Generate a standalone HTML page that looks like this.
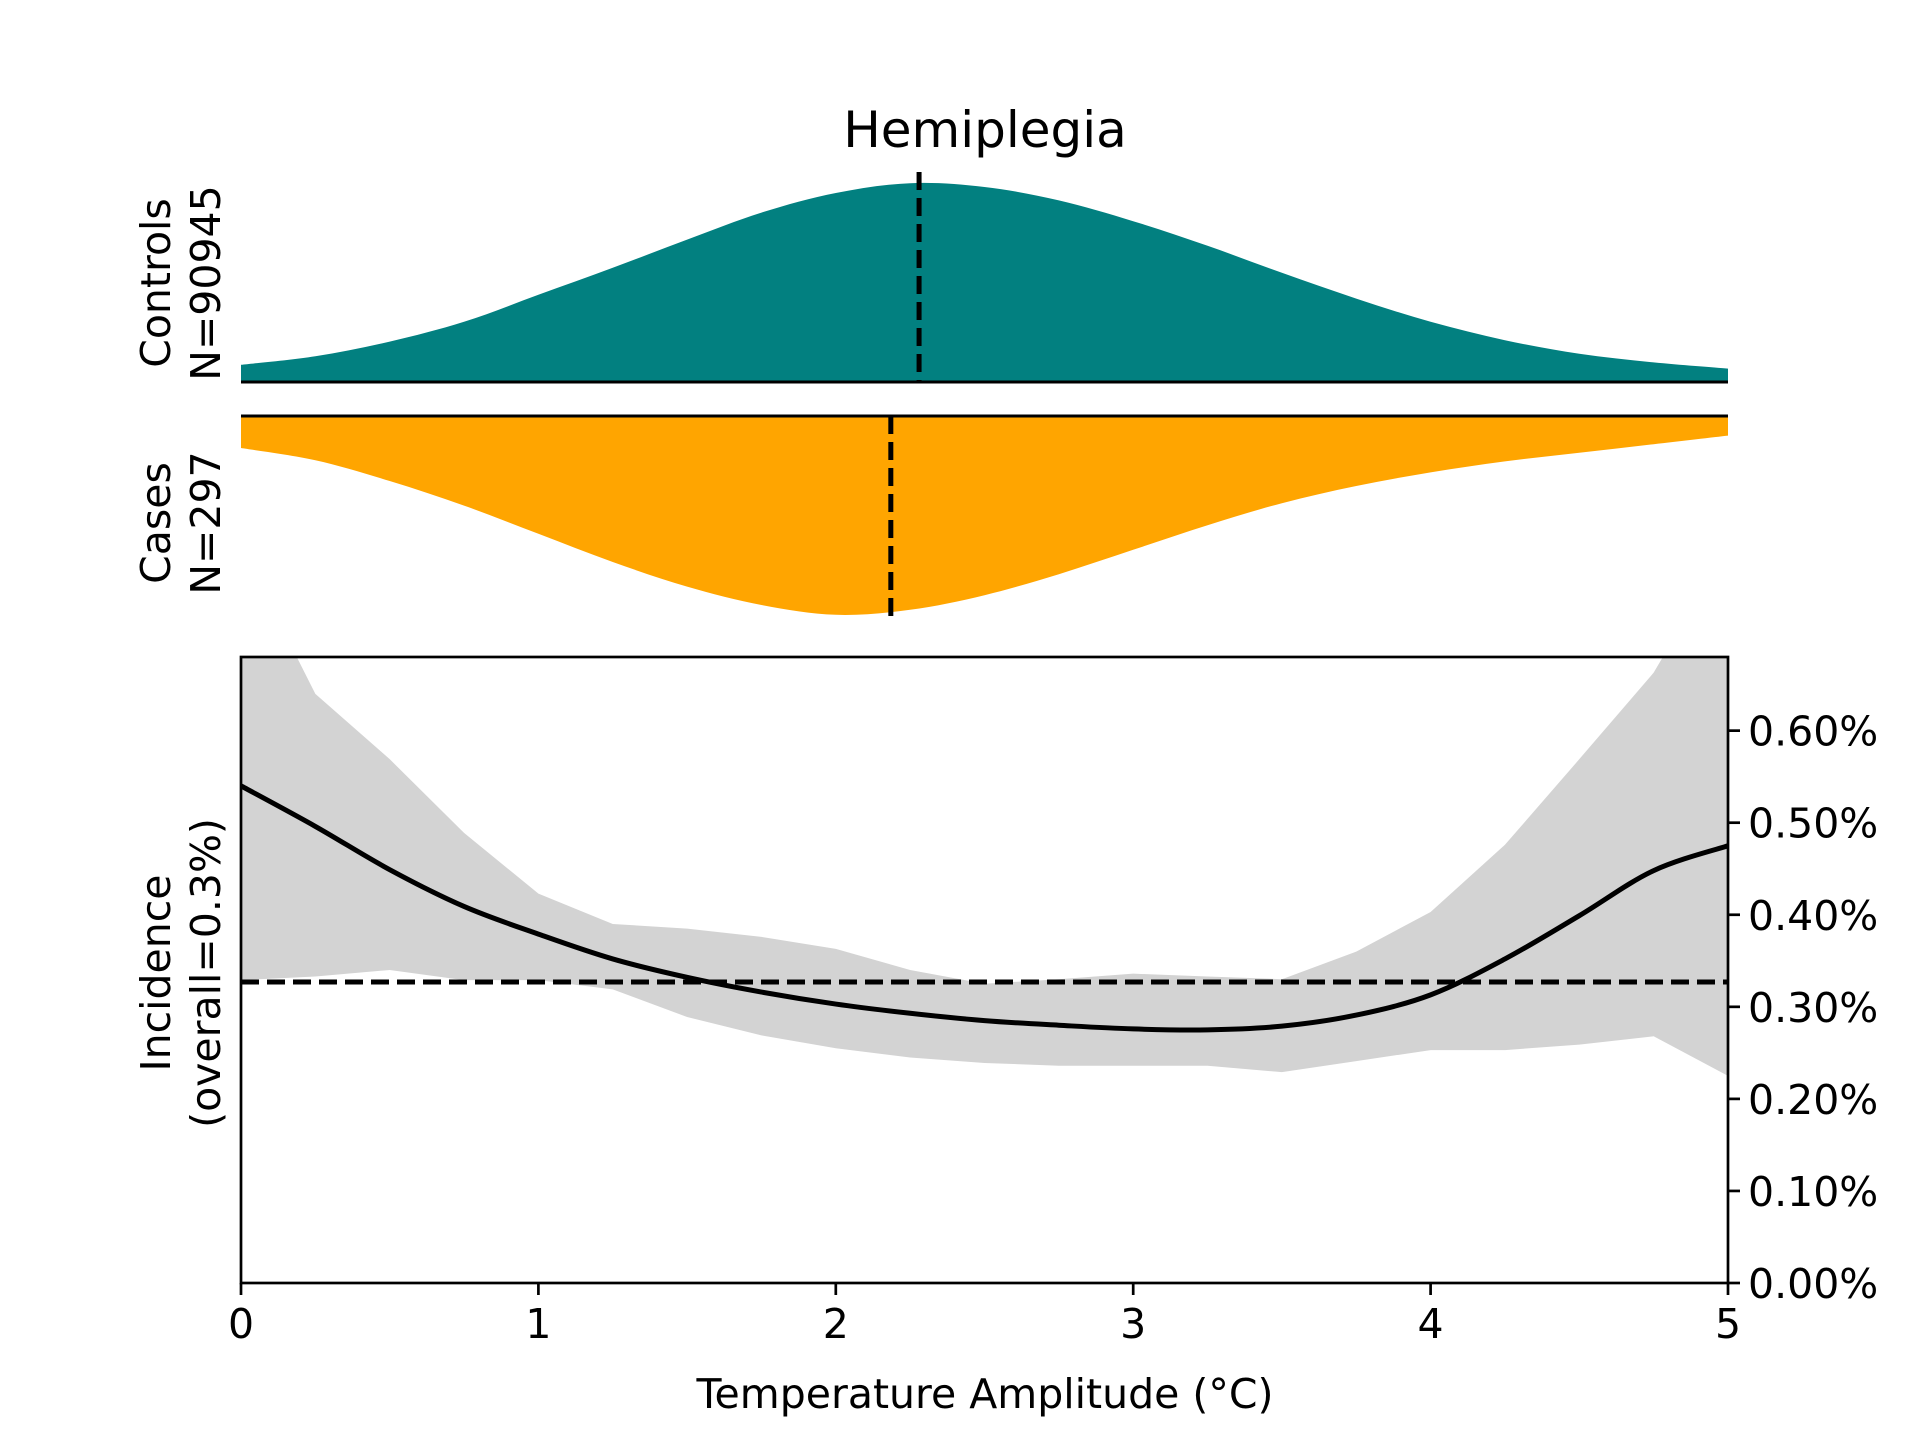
<!DOCTYPE html>
<html><head><meta charset="utf-8"><style>
html,body{margin:0;padding:0;background:#fff;}
svg{display:block;font-family:"DejaVu Sans","Liberation Sans",sans-serif;}
</style></head><body>
<svg id="chart" width="1920" height="1440" viewBox="0 0 1920 1440" xmlns="http://www.w3.org/2000/svg">
<defs><clipPath id="clipMain"><rect x="241" y="657" width="1487" height="626"/></clipPath></defs>
<text x="985" y="147" font-size="50" text-anchor="middle">Hemiplegia</text>
<g id="topPanel"></g>
<g id="mainPanel"></g>
<text transform="translate(170,283) rotate(-90)" font-size="41" text-anchor="middle">Controls</text>
<text transform="translate(220,283) rotate(-90)" font-size="41" text-anchor="middle">N=90945</text>
<text transform="translate(170,523) rotate(-90)" font-size="41" text-anchor="middle">Cases</text>
<text transform="translate(220,523) rotate(-90)" font-size="41" text-anchor="middle">N=297</text>
<text transform="translate(170,973) rotate(-90)" font-size="41" text-anchor="middle">Incidence</text>
<text transform="translate(220,973) rotate(-90)" font-size="41" text-anchor="middle">(overall=0.3%)</text>
<text x="985" y="1408" font-size="41" text-anchor="middle">Temperature Amplitude (°C)</text>
</svg>
<script>
const xs=[0,0.25,0.5,0.75,1,1.25,1.5,1.75,2,2.25,2.5,2.75,3,3.25,3.5,3.75,4,4.25,4.5,4.75,5];
const controlsDensity=[0.086,0.129,0.202,0.301,0.436,0.571,0.712,0.847,0.945,0.994,0.975,0.908,0.804,0.681,0.546,0.417,0.301,0.209,0.141,0.098,0.067];
const casesDensity=[0.160,0.221,0.325,0.448,0.589,0.730,0.853,0.945,0.994,0.969,0.896,0.791,0.669,0.546,0.436,0.350,0.282,0.227,0.184,0.141,0.098];
const controlsMedian=2.28, casesMedian=2.185;
const incidence=[0.540,0.496,0.449,0.409,0.379,0.352,0.332,0.316,0.303,0.293,0.285,0.280,0.276,0.275,0.279,0.291,0.313,0.352,0.399,0.448,0.475];
const upperCI=[0.80,0.64,0.569,0.489,0.423,0.39,0.385,0.376,0.363,0.34,0.325,0.33,0.336,0.333,0.33,0.36,0.403,0.476,0.569,0.663,0.80];
const lowerCI=[0.329,0.333,0.34,0.329,0.329,0.319,0.289,0.269,0.255,0.245,0.239,0.236,0.236,0.236,0.229,0.241,0.253,0.253,0.259,0.268,0.225];
const overall=0.327;
const xTicks=[0,1,2,3,4,5];
const yTicks=[0,0.1,0.2,0.3,0.4,0.5,0.6];
const yTickLabels=["0.00%","0.10%","0.20%","0.30%","0.40%","0.50%","0.60%"];

const NS="http://www.w3.org/2000/svg";
const L=241,R=1728,T=657,B=1283;
const X=v=>L+v/5*(R-L);
const Y=v=>B-v/0.68*(B-T);
const YC=v=>382-v*200;
const YK=v=>416+v*200;
function mk(tag,attrs,parent){const e=document.createElementNS(NS,tag);for(const k in attrs)e.setAttribute(k,attrs[k]);parent.appendChild(e);return e;}
function smooth(pts){let s='';for(let i=0;i<pts.length-1;i++){const p0=pts[Math.max(0,i-1)],p1=pts[i],p2=pts[i+1],p3=pts[Math.min(pts.length-1,i+2)];
 const c1=[p1[0]+(p2[0]-p0[0])/6,p1[1]+(p2[1]-p0[1])/6],c2=[p2[0]-(p3[0]-p1[0])/6,p2[1]-(p3[1]-p1[1])/6];
 s+=' C'+c1[0]+','+c1[1]+' '+c2[0]+','+c2[1]+' '+p2[0]+','+p2[1];}return s;}
const topG=document.getElementById('topPanel'), mainG=document.getElementById('mainPanel');

let pts=xs.map((x,i)=>[X(x),YC(controlsDensity[i])]);
let d='M'+X(0)+','+YC(0)+' L'+pts[0][0]+','+pts[0][1]+smooth(pts)+' L'+X(5)+','+YC(0)+'Z';
let e=mk('path',{d:d,fill:'#028080'},topG);


pts=xs.map((x,i)=>[X(x),YK(casesDensity[i])]);
d='M'+X(0)+','+YK(0)+' L'+pts[0][0]+','+pts[0][1]+smooth(pts)+' L'+X(5)+','+YK(0)+'Z';
e=mk('path',{d:d,fill:'#FFA500'},topG);


e=mk('line',{x1:L,x2:R,y1:382,y2:382,stroke:'#000','stroke-width':3},topG);


e=mk('line',{x1:L,x2:R,y1:416,y2:416,stroke:'#000','stroke-width':3},topG);


e=mk('line',{x1:X(controlsMedian),x2:X(controlsMedian),y1:172,y2:382,stroke:'#000','stroke-width':5,'stroke-dasharray':'18 8'},topG);


e=mk('line',{x1:X(casesMedian),x2:X(casesMedian),y1:416,y2:624,stroke:'#000','stroke-width':5,'stroke-dasharray':'18 8'},topG);



const g=mk('g',{'clip-path':'url(#clipMain)'},mainG);
d='';xs.forEach((x,i)=>d+=(i?' L':'M')+X(x)+','+Y(upperCI[i]));
for(let i=xs.length-1;i>=0;i--)d+=' L'+X(xs[i])+','+Y(lowerCI[i]);d+='Z';
e=mk('path',{d:d,fill:'#d3d3d3'},g);


e=mk('line',{x1:L,x2:R,y1:Y(overall),y2:Y(overall),stroke:'#000','stroke-width':5,'stroke-dasharray':'18 8'},g);


pts=xs.map((x,i)=>[X(x),Y(incidence[i])]);
d='M'+pts[0][0]+','+pts[0][1]+smooth(pts);
e=mk('path',{d:d,fill:'none',stroke:'#000','stroke-width':5,'stroke-linejoin':'round'},g);


e=mk('rect',{x:L,y:T,width:R-L,height:B-T,fill:'none',stroke:'#000','stroke-width':2.7},mainG);


xTicks.forEach(t=>{
  let l=mk('line',{x1:X(t),x2:X(t),y1:B,y2:B+12,stroke:'#000','stroke-width':2.7},mainG);
  
  
  let tx=mk('text',{x:X(t),y:B+55,'font-size':41,'text-anchor':'middle'},mainG);tx.textContent=t;
  
  
});
yTicks.forEach((t,i)=>{
  let l=mk('line',{x1:R,x2:R+12,y1:Y(t),y2:Y(t),stroke:'#000','stroke-width':2.7},mainG);
  
  
  let tx=mk('text',{x:R+20,y:Y(t)+15,'font-size':41},mainG);tx.textContent=yTickLabels[i];
  
  
});
</script>
</body></html>
